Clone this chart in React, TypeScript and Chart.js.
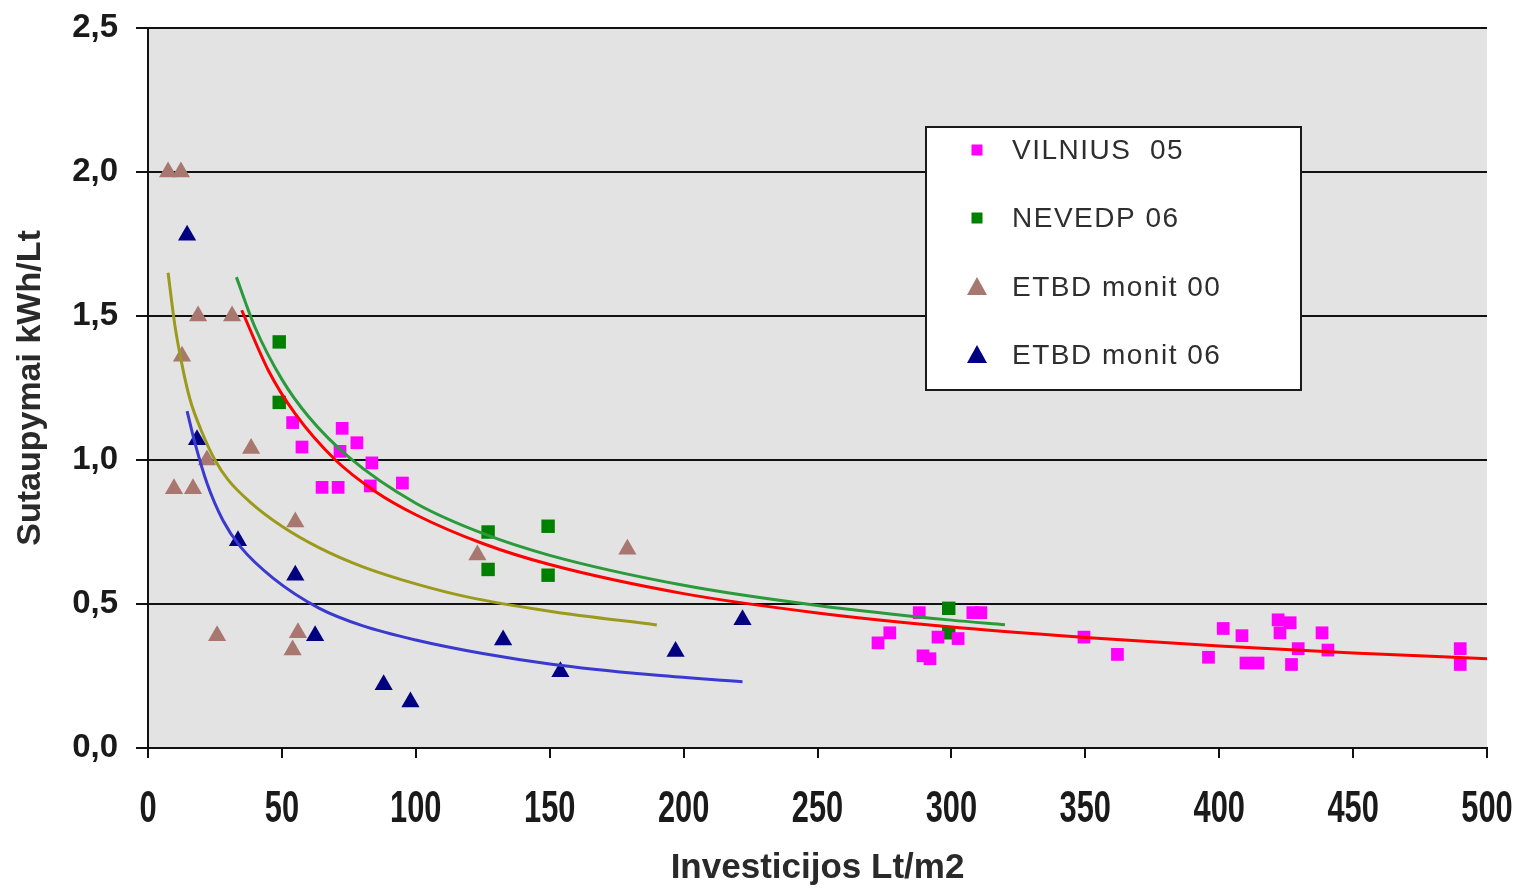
import React, { useEffect, useRef } from 'react';
import { Chart, registerables } from 'chart.js';

Chart.register(...registerables);

// ---- data ----
const vilniusX = [54, 57.5, 72.5, 78, 71.7, 83.6, 65, 71, 83, 95, 272.6, 277, 288, 289.4, 292, 295, 302.5, 308, 311, 349.5, 362, 396, 401.5, 408.5, 410, 414.5, 422, 426.5, 422.7, 429.5, 427, 438.4, 440.6, 490, 490];
const vilniusY = [1.13, 1.045, 1.11, 1.06, 1.03, 0.99, 0.905, 0.905, 0.91, 0.92, 0.365, 0.4, 0.47, 0.32, 0.31, 0.385, 0.38, 0.47, 0.47, 0.385, 0.325, 0.315, 0.415, 0.39, 0.295, 0.295, 0.445, 0.435, 0.4, 0.345, 0.29, 0.4, 0.34, 0.345, 0.29];

const nevedpX = [49, 49, 127, 127, 149.4, 149.4, 299, 299];
const nevedpY = [1.41, 1.2, 0.75, 0.62, 0.77, 0.6, 0.485, 0.4];

const etbd00X = [7.5, 12.3, 18.7, 31.4, 12.7, 9.7, 16.8, 38.5, 22, 55, 25.8, 54, 56, 123, 179];
const etbd00Y = [2.0, 2.0, 1.5, 1.5, 1.36, 0.9, 0.9, 1.04, 1.0, 0.785, 0.39, 0.34, 0.4, 0.67, 0.69];

const etbd06X = [14.6, 18.3, 33.6, 55, 62.4, 88, 98, 132.6, 154, 197, 222];
const etbd06Y = [1.78, 1.07, 0.72, 0.6, 0.39, 0.22, 0.16, 0.375, 0.265, 0.335, 0.445];

// trend curves
const redTrendX = [35, 45, 55, 70, 85, 100, 125, 150, 200, 250, 300, 350, 400, 450, 500];
const redTrendY = [1.52, 1.31, 1.16, 1.0, 0.89, 0.81, 0.71, 0.637, 0.536, 0.469, 0.42, 0.384, 0.354, 0.33, 0.31];

const greenTrendX = [33, 40, 50, 60, 75, 100, 125, 150, 200, 250, 300, 320];
const greenTrendY = [1.635, 1.46, 1.28, 1.15, 1.01, 0.85, 0.745, 0.669, 0.565, 0.495, 0.444, 0.428];

const oliveTrendX = [7.5, 10, 12.5, 15.7, 20, 25, 30, 38, 50, 64, 80, 100, 120, 150, 190];
const oliveTrendY = [1.65, 1.47, 1.34, 1.21, 1.1, 1.0, 0.93, 0.855, 0.77, 0.695, 0.63, 0.57, 0.523, 0.475, 0.427];

const blueTrendX = [14.6, 17.5, 22, 28, 34.4, 46.7, 64, 80, 100, 125, 150, 187, 222];
const blueTrendY = [1.17, 1.06, 0.92, 0.79, 0.7, 0.59, 0.485, 0.425, 0.375, 0.328, 0.292, 0.255, 0.23];

const seriesNames = ['VILNIUS  05', 'NEVEDP 06', 'ETBD monit 00', 'ETBD monit 06'];
const xAxisTitle = 'Investicijos Lt/m2';
const yAxisTitle = 'Sutaupymai kWh/Lt';

const toPts = (xs: number[], ys: number[]) => xs.map((x, i) => ({ x, y: ys[i] }));

const MAGENTA = '#ff00ff';
const DKGREEN = '#008000';
const BROWN = '#a8776f';
const NAVY = '#000080';

const bgPlugin = {
  id: 'bg',
  beforeDraw(chart: any) {
    const { ctx, chartArea } = chart;
    ctx.save();
    ctx.fillStyle = '#ffffff';
    ctx.fillRect(0, 0, chart.width, chart.height);
    ctx.fillStyle = '#e3e3e3';
    ctx.fillRect(chartArea.left, chartArea.top, chartArea.right - chartArea.left, chartArea.bottom - chartArea.top);
    ctx.restore();
  },
};

// condensed x tick labels (drawn from the scale's own ticks)
const xLabelPlugin = {
  id: 'xLabels',
  afterDraw(chart: any) {
    const { ctx } = chart;
    const xs = chart.scales.x;
    ctx.save();
    ctx.fillStyle = '#1a1a1a';
    ctx.font = 'bold 44px "Liberation Sans", Arial, sans-serif';
    ctx.textAlign = 'center';
    ctx.textBaseline = 'middle';
    const y = xs.top + 62;
    for (const t of xs.ticks) {
      const px = xs.getPixelForValue(t.value);
      ctx.save();
      ctx.translate(px, y);
      ctx.scale(0.7, 1);
      ctx.fillText(String(t.value), 0, 0);
      ctx.restore();
    }
    ctx.restore();
  },
};

const legendPlugin = {
  id: 'customLegend',
  afterDraw(chart: any) {
    const { ctx } = chart;
    const bx = 926, by = 127, bw = 375, bh = 263;
    ctx.save();
    ctx.fillStyle = '#ffffff';
    ctx.fillRect(bx, by, bw, bh);
    ctx.strokeStyle = '#1a1a1a';
    ctx.lineWidth = 2;
    ctx.strokeRect(bx, by, bw, bh);
    const rows = [150, 218, 287, 355];
    const mx = 977;
    for (let i = 0; i < 4; i++) {
      const ds = chart.data.datasets[4 + i];
      const y = rows[i];
      ctx.fillStyle = ds.backgroundColor;
      if (ds.pointStyle === 'rect') {
        ctx.fillRect(mx - 5.5, y - 5.5, 11, 11);
      } else {
        ctx.beginPath();
        ctx.moveTo(mx, y - 10);
        ctx.lineTo(mx + 10, y + 8);
        ctx.lineTo(mx - 10, y + 8);
        ctx.closePath();
        ctx.fill();
      }
      ctx.fillStyle = '#2e2e2e';
      ctx.font = '28px "Liberation Sans", Arial, sans-serif';
      (ctx as any).letterSpacing = '1.5px';
      ctx.textAlign = 'left';
      ctx.textBaseline = 'middle';
      ctx.fillText(ds.label, 1012, y + 1);
    }
    ctx.restore();
  },
};

export default function App() {
  const ref = useRef<HTMLCanvasElement>(null);
  useEffect(() => {
    document.body.style.margin = '0';
    const lineDs = (label: string, xs: number[], ys: number[], color: string) => ({
      type: 'scatter' as const,
      label,
      data: toPts(xs, ys),
      showLine: true,
      borderColor: color,
      backgroundColor: color,
      borderWidth: 3,
      pointRadius: 0,
      tension: 0.4,
      cubicInterpolationMode: 'monotone' as const,
      order: 0,
    });
    const ptDs = (label: string, xs: number[], ys: number[], color: string, style: string, r: number) => ({
      type: 'scatter' as const,
      label,
      data: toPts(xs, ys),
      showLine: false,
      backgroundColor: color,
      borderColor: color,
      borderWidth: 0,
      pointStyle: style,
      pointRadius: r,
      order: 1,
    });
    const chart = new Chart(ref.current!, {
      type: 'scatter',
      data: {
        datasets: [
          lineDs('trend V', redTrendX, redTrendY, '#ff0000'),
          lineDs('trend N', greenTrendX, greenTrendY, '#2a9a3a'),
          lineDs('trend E00', oliveTrendX, oliveTrendY, '#9c9a1c'),
          lineDs('trend E06', blueTrendX, blueTrendY, '#3a3ad0'),
          ptDs(seriesNames[0], vilniusX, vilniusY, MAGENTA, 'rect', 9),
          ptDs(seriesNames[1], nevedpX, nevedpY, DKGREEN, 'rect', 9.5),
          ptDs(seriesNames[2], etbd00X, etbd00Y, BROWN, 'triangle', 10.5),
          ptDs(seriesNames[3], etbd06X, etbd06Y, NAVY, 'triangle', 10.5),
        ] as any,
      },
      options: {
        animation: false,
        responsive: false,
        devicePixelRatio: 1,
        layout: { padding: { top: 28, right: 32, left: 0, bottom: 0 } },
        plugins: {
          legend: { display: false },
          tooltip: { enabled: false },
        },
        scales: {
          x: {
            type: 'linear',
            min: 0,
            max: 500,
            ticks: { stepSize: 50, display: false },
            grid: { drawOnChartArea: false, drawTicks: true, tickLength: 10, color: '#111', lineWidth: 2 },
            border: { display: true, color: '#111', width: 2 },
            title: {
              display: true,
              text: xAxisTitle,
              color: '#2a2a2a',
              font: { family: '"Liberation Sans", Arial, sans-serif', size: 35, weight: 'bold' },
              padding: { top: 0, bottom: 0 },
            },
            afterFit: (scale: any) => {
              scale.height = 141;
              scale.paddingLeft = 0;
              scale.paddingRight = 0;
            },
          },
          y: {
            type: 'linear',
            min: 0,
            max: 2.5,
            ticks: {
              stepSize: 0.5,
              color: '#1a1a1a',
              padding: 18,
              font: { family: '"Liberation Sans", Arial, sans-serif', size: 33, weight: 'bold' },
              callback: (v: any) => Number(v).toFixed(1).replace('.', ','),
            },
            grid: { drawTicks: true, tickLength: 12, color: '#111', lineWidth: 2 },
            border: { display: true, color: '#111', width: 2 },
            title: {
              display: true,
              text: yAxisTitle,
              color: '#2a2a2a',
              font: { family: '"Liberation Sans", Arial, sans-serif', size: 34, weight: 'bold' },
              padding: { top: 10, bottom: 0 },
            },
            afterFit: (scale: any) => {
              scale.width = 148;
              scale.paddingTop = 0;
              scale.paddingBottom = 0;
            },
          },
        },
      } as any,
      plugins: [bgPlugin, xLabelPlugin, legendPlugin],
    });
    return () => chart.destroy();
  }, []);
  return (
    <div style={{ position: 'fixed', left: 0, top: 0, width: 1519, height: 889, background: '#fff' }}>
      <canvas ref={ref} width={1519} height={889} style={{ width: 1519, height: 889, display: 'block' }} />
    </div>
  );
}
